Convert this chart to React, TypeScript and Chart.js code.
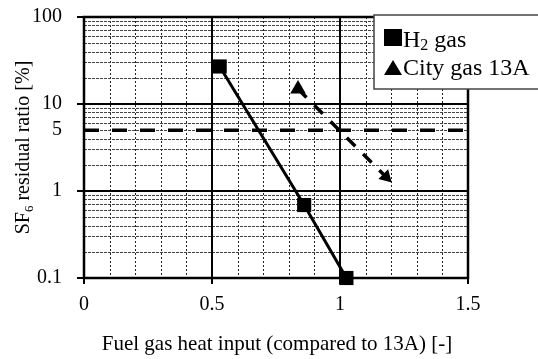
import React, { useEffect, useRef } from 'react';
import { Chart, registerables } from 'chart.js';

Chart.register(...registerables);

// ---- data ----
const h2X = [0.53, 0.86, 1.025];
const h2Y = [27, 0.69, 0.1];
const cityX = [0.836, 1.18];
const cityY = [14.9, 1.45];
const limitX = [0, 1.5];
const limitY = [5, 5];

// ---- axes ----
const xTickValues = [0, 0.5, 1, 1.5];
const yTickValues = [0.1, 1, 5, 10, 100];
const xMajorGrid = [0.5, 1];
const yMajorGrid = [1, 10];
const xMinorGrid = [0.1, 0.2, 0.3, 0.4, 0.6, 0.7, 0.8, 0.9, 1.1, 1.2, 1.3, 1.4];
const yMinorGrid = [0.2, 0.3, 0.4, 0.5, 0.6, 0.7, 0.8, 0.9, 2, 3, 4, 5, 6, 7, 8, 9, 20, 30, 40, 50, 60, 70, 80, 90];
const yDecadeTicks = [0.1, 1, 10, 100];

const legendLabels = ['H', 'City gas 13A'];
const xTitle = 'Fuel gas heat input (compared to 13A) [-]';

const FONT = "'Liberation Serif', 'Times New Roman', serif";

const toPoints = (xs: number[], ys: number[]) => xs.map((x, i) => ({ x, y: ys[i] }));

const decorPlugin = {
  id: 'decor',
  beforeDatasetsDraw(chart: any) {
    const ctx = chart.ctx;
    const a = chart.chartArea;
    const xs = chart.scales.x;
    const ys = chart.scales.y;
    ctx.save();
    // minor grid
    ctx.strokeStyle = '#222';
    ctx.lineWidth = 1;
    ctx.setLineDash([2, 2]);
    for (const v of xMinorGrid) {
      const p = Math.round(xs.getPixelForValue(v)) + 0.5;
      ctx.beginPath();
      ctx.moveTo(p, a.top);
      ctx.lineTo(p, a.bottom);
      ctx.stroke();
    }
    ctx.setLineDash([3, 1]);
    ctx.strokeStyle = '#444';
    for (const v of yMinorGrid) {
      const p = Math.round(ys.getPixelForValue(v)) + 0.5;
      ctx.beginPath();
      ctx.moveTo(a.left, p);
      ctx.lineTo(a.right, p);
      ctx.stroke();
    }
    // major grid
    ctx.setLineDash([]);
    ctx.strokeStyle = '#000';
    ctx.lineWidth = 2;
    for (const v of xMajorGrid) {
      const p = Math.round(xs.getPixelForValue(v));
      ctx.beginPath();
      ctx.moveTo(p, a.top);
      ctx.lineTo(p, a.bottom);
      ctx.stroke();
    }
    for (const v of yMajorGrid) {
      const p = Math.round(ys.getPixelForValue(v));
      ctx.beginPath();
      ctx.moveTo(a.left, p);
      ctx.lineTo(a.right, p);
      ctx.stroke();
    }
    // tick marks
    for (const v of yDecadeTicks) {
      const p = Math.round(ys.getPixelForValue(v));
      ctx.beginPath();
      ctx.moveTo(a.left - 7, p);
      ctx.lineTo(a.left, p);
      ctx.stroke();
    }
    for (const v of xTickValues) {
      const p = Math.round(xs.getPixelForValue(v));
      ctx.beginPath();
      ctx.moveTo(p, a.bottom);
      ctx.lineTo(p, a.bottom + 6);
      ctx.stroke();
    }
    // border
    ctx.lineWidth = 2.5;
    ctx.strokeRect(a.left, a.top, a.right - a.left, a.bottom - a.top);
    ctx.restore();
  },
  afterDraw(chart: any) {
    const ctx = chart.ctx;
    const a = chart.chartArea;
    ctx.save();
    ctx.fillStyle = '#000';
    // y title with subscript
    ctx.translate(29, (a.top + a.bottom) / 2);
    ctx.rotate(-Math.PI / 2);
    ctx.textBaseline = 'alphabetic';
    ctx.textAlign = 'left';
    const big = `20px ${FONT}`;
    const small = `13px ${FONT}`;
    ctx.font = big;
    const w1 = ctx.measureText('SF').width;
    const w3 = ctx.measureText(' residual ratio [%]').width;
    ctx.font = small;
    const w2 = ctx.measureText('6').width;
    let x0 = -(w1 + w2 + w3) / 2;
    ctx.font = big;
    ctx.fillText('SF', x0, 0);
    ctx.font = small;
    ctx.fillText('6', x0 + w1, 4);
    ctx.font = big;
    ctx.fillText(' residual ratio [%]', x0 + w1 + w2, 0);
    ctx.restore();

    // x title
    ctx.save();
    ctx.fillStyle = '#000';
    ctx.font = `21px ${FONT}`;
    ctx.textAlign = 'center';
    ctx.textBaseline = 'alphabetic';
    ctx.fillText(xTitle, (a.left + a.right) / 2 + 1, 350);
    ctx.restore();

    // legend
    ctx.save();
    ctx.fillStyle = '#fff';
    ctx.strokeStyle = '#444';
    ctx.lineWidth = 1.5;
    ctx.fillRect(374, 15, 180, 74);
    ctx.strokeRect(374, 15, 180, 74);
    ctx.fillStyle = '#000';
    ctx.fillRect(384, 29, 18, 17);
    ctx.beginPath();
    ctx.moveTo(384, 75);
    ctx.lineTo(402, 75);
    ctx.lineTo(393, 60);
    ctx.closePath();
    ctx.fill();
    ctx.textAlign = 'left';
    ctx.textBaseline = 'alphabetic';
    ctx.font = `24px ${FONT}`;
    ctx.fillText(legendLabels[0], 403, 47);
    const hw = ctx.measureText(legendLabels[0]).width;
    ctx.font = `16px ${FONT}`;
    ctx.fillText('2', 403 + hw, 50);
    const sw = ctx.measureText('2').width;
    ctx.font = `24px ${FONT}`;
    ctx.fillText(' gas', 403 + hw + sw, 47);
    ctx.fillText(legendLabels[1], 403, 75);
    ctx.restore();
  },
};

export default function App() {
  const ref = useRef<HTMLCanvasElement>(null);
  useEffect(() => {
    if (!ref.current) return;
    const chart = new Chart(ref.current, {
      type: 'scatter',
      data: {
        datasets: [
          {
            label: 'limit',
            data: toPoints(limitX, limitY),
            showLine: true,
            borderColor: '#000',
            borderWidth: 3.5,
            borderDash: [15, 13],
            pointRadius: 0,
          },
          {
            label: 'City gas 13A',
            data: toPoints(cityX, cityY),
            showLine: true,
            borderColor: '#000',
            backgroundColor: '#000',
            borderWidth: 3.5,
            borderDash: [12, 11],
            pointStyle: 'triangle',
            pointRadius: [9, 8],
            pointBorderWidth: 0,
            pointRotation: (c: any) => {
              const i = c.dataIndex;
              if (i === 0) return 0;
              const ch = c.chart;
              const xs = ch.scales.x;
              const ys = ch.scales.y;
              const dx = xs.getPixelForValue(cityX[i]) - xs.getPixelForValue(cityX[i - 1]);
              const dy = ys.getPixelForValue(cityY[i]) - ys.getPixelForValue(cityY[i - 1]);
              return (Math.atan2(dx, -dy) * 180) / Math.PI;
            },
            clip: false as any,
          },
          {
            label: 'H2 gas',
            data: toPoints(h2X, h2Y),
            showLine: true,
            borderColor: '#000',
            backgroundColor: '#000',
            borderWidth: 3,
            pointStyle: 'rect',
            pointRadius: 10,
            pointBorderWidth: 0,
            clip: false as any,
          },
        ],
      },
      options: {
        animation: false,
        responsive: false,
        devicePixelRatio: 1,
        layout: { padding: { top: 17, right: 70, left: 0, bottom: 0 } },
        plugins: { legend: { display: false }, tooltip: { enabled: false } },
        scales: {
          x: {
            type: 'linear',
            min: 0,
            max: 1.5,
            afterBuildTicks: (s: any) => {
              s.ticks = xTickValues.map((v) => ({ value: v }));
            },
            afterFit: (s: any) => {
              s.height = 81;
              s.paddingLeft = 0;
              s.paddingRight = 0;
              s.paddingTop = 0;
              s.paddingBottom = 0;
            },
            ticks: {
              padding: 15,
              color: '#000',
              font: { family: FONT, size: 20 },
              callback: (v: any) => String(v),
              maxRotation: 0,
            },
            grid: { display: false, drawTicks: false },
            border: { display: false },
          },
          y: {
            type: 'logarithmic',
            min: 0.1,
            max: 100,
            afterBuildTicks: (s: any) => {
              s.ticks = yTickValues.map((v) => ({ value: v }));
            },
            afterFit: (s: any) => {
              s.width = 84;
              s.paddingLeft = 0;
              s.paddingRight = 0;
              s.paddingTop = 0;
              s.paddingBottom = 0;
            },
            ticks: {
              padding: 22,
              color: '#000',
              font: { family: FONT, size: 20 },
              callback: (v: any) => String(v),
              autoSkip: false,
            },
            grid: { display: false, drawTicks: false },
            border: { display: false },
          },
        },
      },
      plugins: [decorPlugin],
    } as any);
    return () => chart.destroy();
  }, []);
  return (
    <div style={{ position: 'absolute', left: 0, top: 0, width: 538, height: 359, background: '#fff' }}>
      <canvas ref={ref} width={538} height={359} style={{ display: 'block' }} />
    </div>
  );
}
